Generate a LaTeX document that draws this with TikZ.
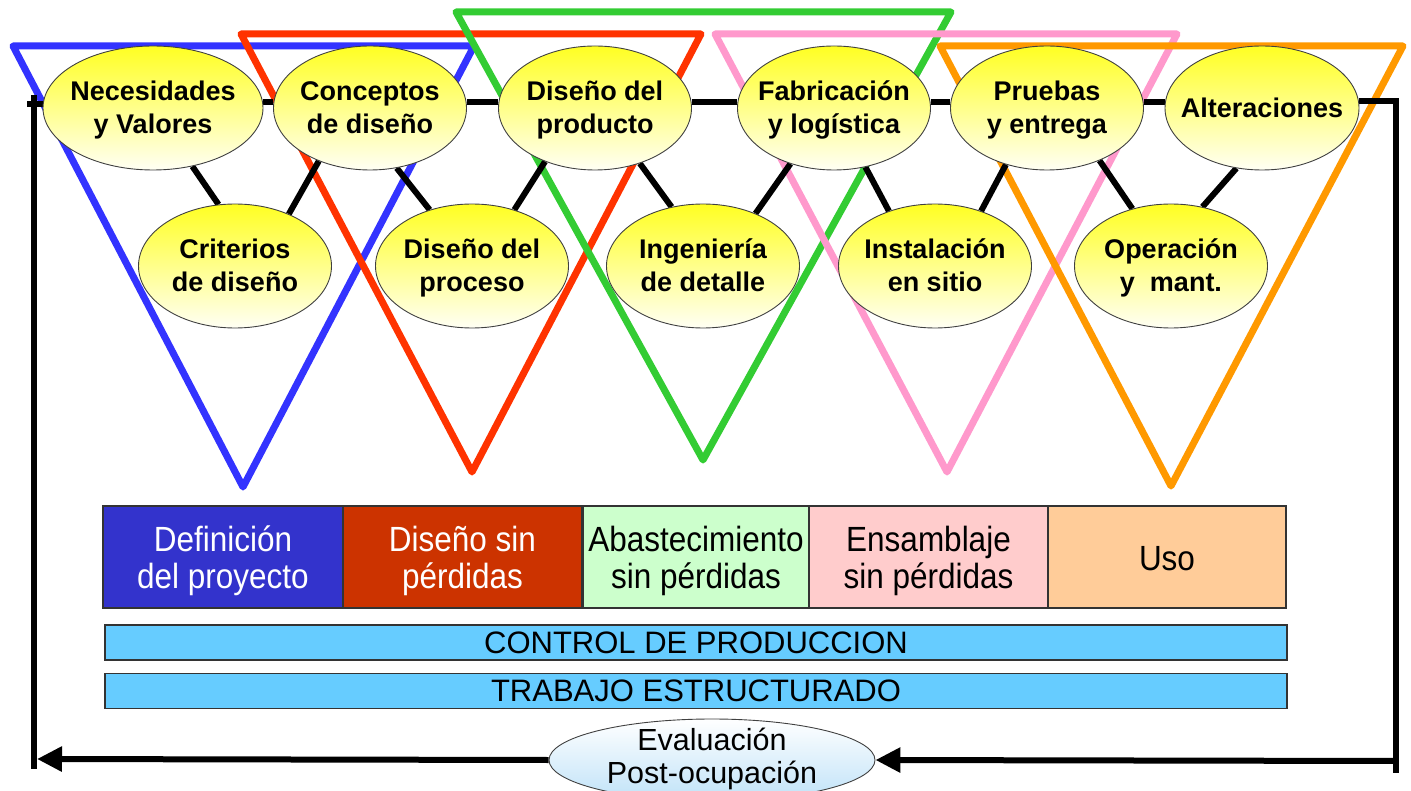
\documentclass[tikz,border=0pt]{standalone}
\usepackage{fontspec}
\setmainfont{Liberation Sans}
\newfontfamily\narrowfont[FakeStretch=0.9]{Liberation Sans}
\usetikzlibrary{shapes.geometric,arrows.meta}
\definecolor{tblue}{HTML}{3333FF}
\definecolor{tred}{HTML}{FF3300}
\definecolor{tgreen}{HTML}{33CC33}
\definecolor{tpink}{HTML}{FF99CC}
\definecolor{torange}{HTML}{FF9900}
\definecolor{bblue}{HTML}{3333CC}
\definecolor{bred}{HTML}{CC3300}
\definecolor{bgreen}{HTML}{CCFFCC}
\definecolor{bpink}{HTML}{FFCCCC}
\definecolor{borange}{HTML}{FFCC99}
\definecolor{barblue}{HTML}{66CCFF}
\definecolor{ytop}{HTML}{FFFF22}
\definecolor{ybot}{HTML}{FFFFF4}
\definecolor{etop}{HTML}{FFFFFF}
\definecolor{ebot}{HTML}{BFE2F8}
\pgfdeclarelayer{bg}
\pgfdeclarelayer{mid}
\pgfsetlayers{bg,mid,main}
\begin{document}
\begin{tikzpicture}[x=1pt,y=-1pt,
  tri/.style={line width=7pt,line join=round,line cap=round},
  lnk/.style={line width=6pt,black},
  fb/.style={line width=6pt,black},
  tip/.style={-{Triangle[length=25pt,width=24pt]}},
  yel/.style={ellipse,draw=black!75,line width=0.9pt,top color=ytop,bottom color=ybot,inner sep=0pt,minimum height=124pt,minimum width=193pt},
  ytxt/.style={font=\fontsize{27pt}{33pt}\selectfont\bfseries,align=center,inner sep=0pt},
  stg/.style={draw=black!80,line width=1.2pt,minimum height=102pt,inner sep=0pt},
  stgtxt/.style={font=\narrowfont\fontsize{35pt}{37pt}\selectfont,align=center,inner sep=0pt},
  bar/.style={draw=black!80,line width=1.2pt,fill=barblue,minimum height=35pt,minimum width=1182pt,inner sep=0pt,font=\fontsize{31pt}{33pt}\selectfont},
  evl/.style={ellipse,draw=black!75,line width=0.9pt,top color=etop,bottom color=ebot,inner sep=0pt,minimum width=326pt,minimum height=82pt},
  etxt/.style={font=\fontsize{30.5pt}{33pt}\selectfont,align=center,inner sep=0pt}
]
\useasboundingbox (0,0) rectangle (1411,791);
\clip (0,0) rectangle (1411,791);

% top ellipses
\node[yel,minimum width=220pt] (nec) at (153,108) {};
\node[yel] (conc) at (370,108) {};
\node[yel] (prod) at (595,108) {};
\node[yel] (fab) at (834,108) {};
\node[yel] (prue) at (1047,108) {};
\node[yel,minimum width=194pt] (alt) at (1262,108) {};
% bottom ellipses
\node[yel] (crit) at (235,266) {};
\node[yel] (proc) at (472,266) {};
\node[yel] (ing) at (703,266) {};
\node[yel] (inst) at (935,266) {};
\node[yel] (oper) at (1171,266) {};

% texts
\node[ytxt] (nect) at (153,110) {\strut Necesidades\\y Valores\strut};
\node[ytxt] (conct) at (370,110) {\strut Conceptos\\de diseño\strut};
\node[ytxt] (prodt) at (595,110) {\strut Diseño del\\producto\strut};
\node[ytxt] (fabt) at (834,110) {\strut Fabricación\\y logística\strut};
\node[ytxt] (pruet) at (1047,110) {\strut Pruebas\\y entrega\strut};
\node[ytxt] (altt) at (1262,111) {\strut Alteraciones\strut};
\node[ytxt] (critt) at (235,268) {\strut Criterios\\de diseño\strut};
\node[ytxt] (proct) at (472,268) {\strut Diseño del\\proceso\strut};
\node[ytxt] (ingt) at (703,268) {\strut Ingeniería\\de detalle\strut};
\node[ytxt] (instt) at (935,268) {\strut Instalación\\en sitio\strut};
\node[ytxt] (opert) at (1171,268) {\strut Operación\\y~ mant.\strut};

% stage boxes
\node[stg,fill=bblue,minimum width=240pt] (s1) at (223,557) {};
\node[stg,fill=bred,minimum width=239pt] (s2) at (462.5,557) {};
\node[stg,fill=bgreen,minimum width=226pt] (s3) at (696,557) {};
\node[stg,fill=bpink,minimum width=239pt] (s4) at (928.5,557) {};
\node[stg,fill=borange,minimum width=238pt] (s5) at (1167,557) {};
\node[stgtxt,text=white] (s1t) at (223,563) {\strut Definición\\del proyecto\strut};
\node[stgtxt,text=white] (s2t) at (462.5,563) {\strut Diseño sin\\pérdidas\strut};
\node[stgtxt] (s3t) at (696,563) {\strut Abastecimiento\\sin pérdidas\strut};
\node[stgtxt] (s4t) at (928.5,563) {\strut Ensamblaje\\sin pérdidas\strut};
\node[stgtxt] (s5t) at (1167,563) {\strut Uso\strut};

% bars
\node[bar] (b1) at (696,642.5) {CONTROL DE PRODUCCION};
\node[bar] (b2) at (696,691) {TRABAJO ESTRUCTURADO};

% evaluation
\node[evl] (eval) at (712,760) {};
\node[etxt] (evalt) at (712,760) {\strut Evaluación\\Post-ocupación\strut};

% feedback coordinates
\coordinate (ltick) at (27,104);
\coordinate (ltop) at (34,95);
\coordinate (lbot) at (34,769);
\coordinate (larr) at (37,759);
\coordinate (rtop) at (1396,101);
\coordinate (rbot) at (1396,773);
\coordinate (rarr) at (1396,761);

\begin{pgfonlayer}{bg}
\draw[tri,tblue] (13,46) -- (474,46) -- (243,487) -- cycle;
\draw[tri,tred] (241,34) -- (701,34) -- (472,472) -- cycle;
\draw[tri,tgreen] (456,12) -- (951,12) -- (703,460) -- cycle;
\draw[tri,tpink] (715,34) -- (1177,34) -- (947,472) -- cycle;
\draw[tri,torange] (940,46) -- (1403,46) -- (1171,486) -- cycle;
\end{pgfonlayer}

\begin{pgfonlayer}{mid}
% horizontal links
\draw[lnk] ([yshift=6pt]nec.east) -- ([yshift=6pt]conc.west);
\draw[lnk] ([yshift=6pt]conc.east) -- ([yshift=6pt]prod.west);
\draw[lnk] ([yshift=6pt]prod.east) -- ([yshift=6pt]fab.west);
\draw[lnk] ([yshift=6pt]fab.east) -- ([yshift=6pt]prue.west);
\draw[lnk] ([yshift=6pt]prue.east) -- ([yshift=6pt]alt.west);
% diagonal links
\draw[lnk] (nec.-56) -- (crit.105);
\draw[lnk] (conc.-134) -- (crit.44);
\draw[lnk] (conc.-66) -- (proc.127);
\draw[lnk] (prod.-133) -- (proc.53);
\draw[lnk] (prod.-51) -- (ing.118);
\draw[lnk] (fab.-128) -- (ing.45);
\draw[lnk] (fab.-62) -- (inst.130);
\draw[lnk] (prue.-126) -- (inst.50);
\draw[lnk] (prue.-45) -- (oper.124);
\draw[lnk] (alt.-113) -- (oper.62);
% feedback loop
\draw[fb] ([yshift=4pt]nec.west) -- (ltick);
\draw[fb] (ltop) -- (lbot);
\draw[fb] ([yshift=7pt]alt.east) -- (rtop) -- (rbot);
\draw[fb,tip] (rarr) -- (eval.east);
\draw[fb,tip] (eval.west) -- (larr);
\end{pgfonlayer}
\end{tikzpicture}
\end{document}
